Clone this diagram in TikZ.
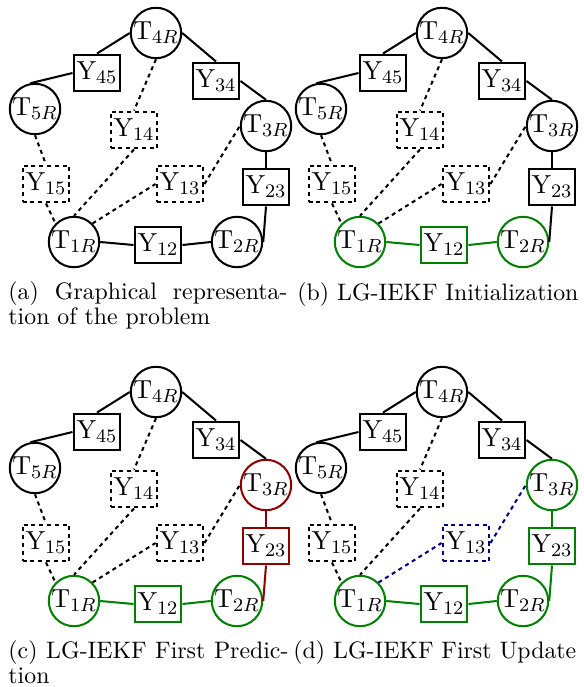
\documentclass[tikz,border=0pt]{standalone}
\DeclareMathSizes{10.5}{10.5}{8.4}{6.5}
\definecolor{stepgreen}{RGB}{0,128,0}
\definecolor{stepred}{RGB}{140,0,0}
\definecolor{stepblue}{RGB}{0,0,130}
\newcommand\nodefont{\fontsize{10.5}{12}\selectfont}
\newcommand\capfont{\fontsize{10}{12}\selectfont}

% One factor graph: poses T (circles), measurements Y (boxes).
% #1 = name prefix, #2 = shift of the panel
\newcommand\graphpanel[2]{%
\begin{scope}[shift={#2}]
  \node[tnode,cT1] (#1T1) at (74,242)  {$\mathrm{T}_{1R}$};
  \node[tnode,cT2] (#1T2) at (237,242) {$\mathrm{T}_{2R}$};
  \node[tnode,cT3] (#1T3) at (266,126) {$\mathrm{T}_{3R}$};
  \node[tnode]     (#1T4) at (156,33)  {$\mathrm{T}_{4R}$};
  \node[tnode]     (#1T5) at (35,109)  {$\mathrm{T}_{5R}$};
  \node[ynode]          (#1Y45) at (97,73)   {$\mathrm{Y}_{45}$};
  \node[ynode]          (#1Y34) at (216,81)  {$\mathrm{Y}_{34}$};
  \node[ynode,pend]     (#1Y14) at (134,130) {$\mathrm{Y}_{14}$};
  \node[ynode,pend]     (#1Y15) at (46,184)  {$\mathrm{Y}_{15}$};
  \node[ynode,pend,cY13] (#1Y13) at (180,184) {$\mathrm{Y}_{13}$};
  \node[ynode,cY23]     (#1Y23) at (266,187) {$\mathrm{Y}_{23}$};
  \node[ynode,cY12]     (#1Y12) at (158,245) {$\mathrm{Y}_{12}$};
  % odometry chain
  \draw[link] (#1T4.west) -- (#1Y45.north);
  \draw[link] (#1Y45.west) -- (#1T5.100);
  \draw[link] (#1T4.east) -- (#1Y34.north);
  \draw[link] (#1Y34.east) -- (#1T3.north);
  \draw[link,cY23] (#1T3.south) -- (#1Y23.north);
  \draw[link,cY23] (#1Y23.south) -- (#1T2.east);
  \draw[link,cY12] (#1T2.west) -- (#1Y12.east);
  \draw[link,cY12] (#1Y12.west) -- (#1T1.east);
  % loop closures
  \draw[link,pend] (#1T4.south) -- (#1Y14.north);
  \draw[link,pend] (#1Y14.south) -- (#1T1.north);
  \draw[link,pend] (#1T5.south) -- (#1Y15.north);
  \draw[link,pend] (#1Y15.south) -- (#1T1.135);
  \draw[link,pend,cY13] (#1T1.north east) -- (#1Y13.west);
  \draw[link,pend,cY13] (#1Y13.east) -- (#1T3.west);
\end{scope}}

\begin{document}
\begin{tikzpicture}[x=0.42pt,y=-0.42pt,
  every node/.style={inner sep=0pt},
  tnode/.style={circle,draw,line width=0.85pt,minimum size=21pt,font=\nodefont},
  ynode/.style={rectangle,draw,line width=0.85pt,minimum width=19.7pt,
                minimum height=15.5pt,font=\nodefont},
  pend/.style={dash pattern=on 1.7pt off 1.6pt},
  link/.style={line width=0.85pt},
  caption/.style={anchor=base west,font=\capfont},
  cT1/.style={}, cT2/.style={}, cT3/.style={},
  cY12/.style={}, cY23/.style={}, cY13/.style={}]
\useasboundingbox (0,0) rectangle (584,687);

% (a) problem
\graphpanel{a}{(0,0)}
% (b) initialization
\begin{scope}[cT1/.style={draw=stepgreen}, cT2/.style={draw=stepgreen},
              cY12/.style={draw=stepgreen}]
  \graphpanel{b}{(286,0)}
\end{scope}
% (c) first prediction
\begin{scope}[cT1/.style={draw=stepgreen}, cT2/.style={draw=stepgreen},
              cY12/.style={draw=stepgreen},
              cT3/.style={draw=stepred}, cY23/.style={draw=stepred}]
  \graphpanel{c}{(0,359)}
\end{scope}
% (d) first update
\begin{scope}[cT1/.style={draw=stepgreen}, cT2/.style={draw=stepgreen},
              cY12/.style={draw=stepgreen},
              cT3/.style={draw=stepgreen}, cY23/.style={draw=stepgreen},
              cY13/.style={draw=stepblue}]
  \graphpanel{d}{(286,359)}
\end{scope}

\node[caption] (capa1) at (8,299) {\makebox[117.2pt][s]{(a) Graphical representa-}};
\node[caption] (capa2) at (8,324) {tion of the problem};
\node[caption] (capb)  at (297,300) {(b) LG-IEKF Initialization};
\node[caption] (capc1) at (8,658) {\makebox[117.6pt][s]{(c) LG-IEKF First Predic-}};
\node[caption] (capc2) at (8,683) {tion};
\node[caption] (capd)  at (293,658) {(d) LG-IEKF First Update};
\end{tikzpicture}
\end{document}
